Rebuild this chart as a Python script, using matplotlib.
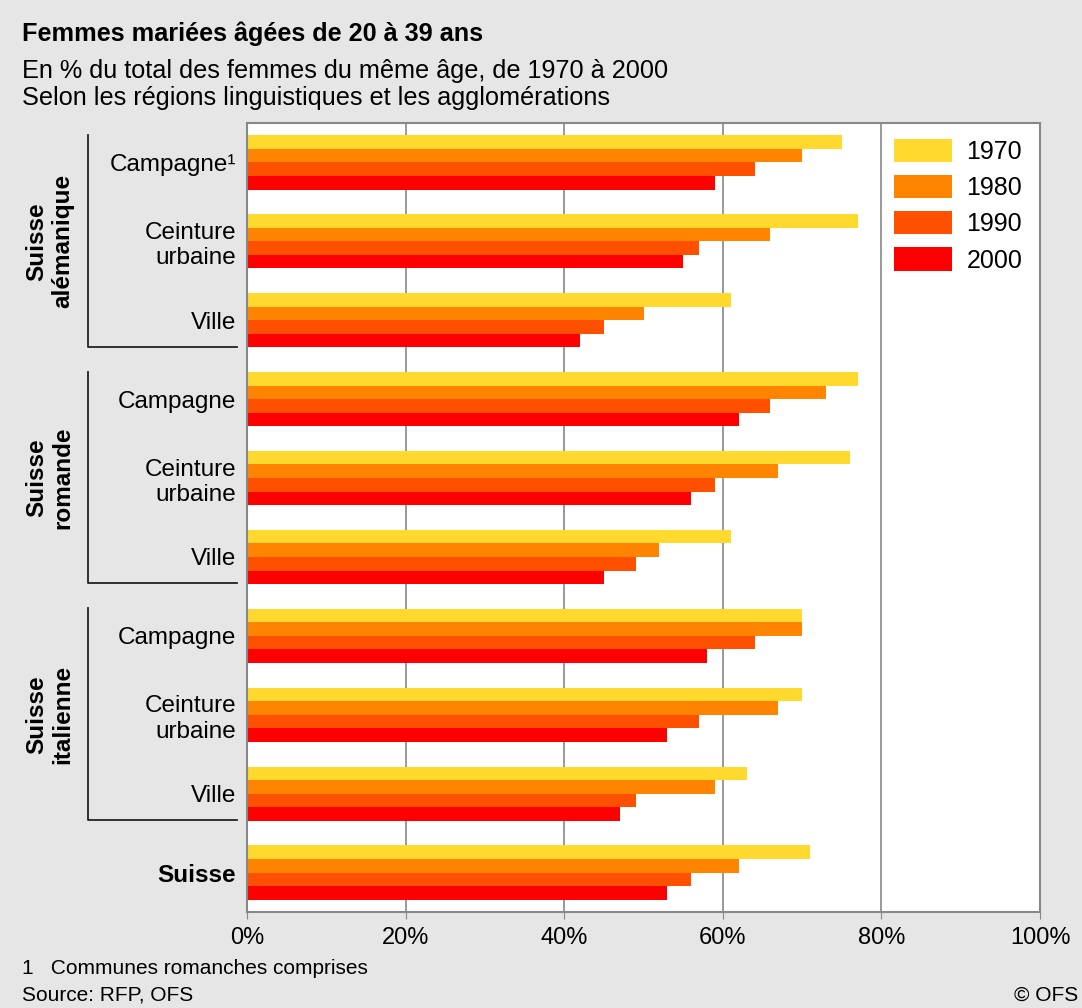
import matplotlib
matplotlib.use("Agg")
import matplotlib.pyplot as plt
import matplotlib.transforms as mtransforms
import numpy as np

plt.rcParams["font.family"] = ["Liberation Sans", "DejaVu Sans"]

# --- data ---
categories = ["Campagne¹", "Ceinture\nurbaine", "Ville",
              "Campagne", "Ceinture\nurbaine", "Ville",
              "Campagne", "Ceinture\nurbaine", "Ville",
              "Suisse"]
years = ["1970", "1980", "1990", "2000"]
v1970 = [75, 77, 61, 77, 76, 61, 70, 70, 63, 71]
v1980 = [70, 66, 50, 73, 67, 52, 70, 67, 59, 62]
v1990 = [64, 57, 45, 66, 59, 49, 64, 57, 49, 56]
v2000 = [59, 55, 42, 62, 56, 45, 58, 53, 47, 53]
regions = ["Suisse\nalémanique", "Suisse\nromande", "Suisse\nitalienne"]
region_rows = [(0, 2), (3, 5), (6, 8)]
xticks = [0, 20, 40, 60, 80, 100]

colors = ["#FFD92E", "#FF8400", "#FF5000", "#FF0000"]
series = [v1970, v1980, v1990, v2000]

W, H = 1082, 1008
fig = plt.figure(figsize=(W / 100, H / 100), dpi=100, facecolor="#e6e6e6")
ax = fig.add_axes([247 / W, 1 - 912 / H, 793 / W, 789 / H])
ax.set_facecolor("white")

y = np.arange(len(categories))
bh = 0.172
for i, (vals, col, lab) in enumerate(zip(series, colors, years)):
    ax.barh(y + (i - 1.5) * bh, vals, height=bh, color=col, label=lab, linewidth=0)

ax.set_xlim(0, 100)
ax.set_ylim(len(categories) - 0.5, -0.5)
ax.set_xticks(xticks)
ax.set_xticklabels([f"{t}%" for t in xticks], fontsize=17)
ax.xaxis.grid(True, color="#888888", linewidth=1.2)
ax.set_axisbelow(True)
ax.tick_params(axis="x", length=5, color="#888888", pad=6)
ax.set_yticks(y)
ax.set_yticklabels(categories, fontsize=17.5, linespacing=1.2)
ax.tick_params(axis="y", length=0, pad=8)
ax.get_yticklabels()[-1].set_fontweight("bold")
for sp in ax.spines.values():
    sp.set_color("#888888")
    sp.set_linewidth(1.5)

# region brackets
trans = mtransforms.blended_transform_factory(fig.transFigure, ax.transData)
for (a, b), name in zip(region_rows, regions):
    top, bot = a - 0.35, b + 0.335
    ax.plot([88 / W, 88 / W, 237 / W], [top, bot, bot], color="#222222",
            linewidth=1.3, transform=trans, clip_on=False)
    ax.text(50 / W, (a + b) / 2, name, transform=trans, rotation=90,
            ha="center", va="center", fontsize=17.5, fontweight="bold",
            linespacing=1.15)

# legend
leg = ax.legend(loc="upper left", bbox_to_anchor=(894 / W, 1 - 139 / H),
                bbox_transform=fig.transFigure, frameon=False, fontsize=18,
                handlelength=2.3, handleheight=1.05, handletextpad=0.6,
                labelspacing=0.44, borderpad=0, borderaxespad=0)

# titles and notes
fig.text(22 / W, 1 - 34 / H, "Femmes mariées âgées de 20 à 39 ans",
         fontsize=18.2, fontweight="bold", va="center")
fig.text(22 / W, 1 - 71 / H, "En % du total des femmes du même âge, de 1970 à 2000",
         fontsize=18.2, va="center")
fig.text(22 / W, 1 - 98 / H, "Selon les régions linguistiques et les agglomérations",
         fontsize=18.2, va="center")
fig.text(22 / W, 1 - 968 / H, "1   Communes romanches comprises",
         fontsize=15, va="center")
fig.text(22 / W, 1 - 995 / H, "Source: RFP, OFS", fontsize=15, va="center")
fig.text(1078 / W, 1 - 995 / H, "© OFS", fontsize=15, va="center", ha="right")

fig.savefig("out.png", dpi=100, facecolor=fig.get_facecolor())
